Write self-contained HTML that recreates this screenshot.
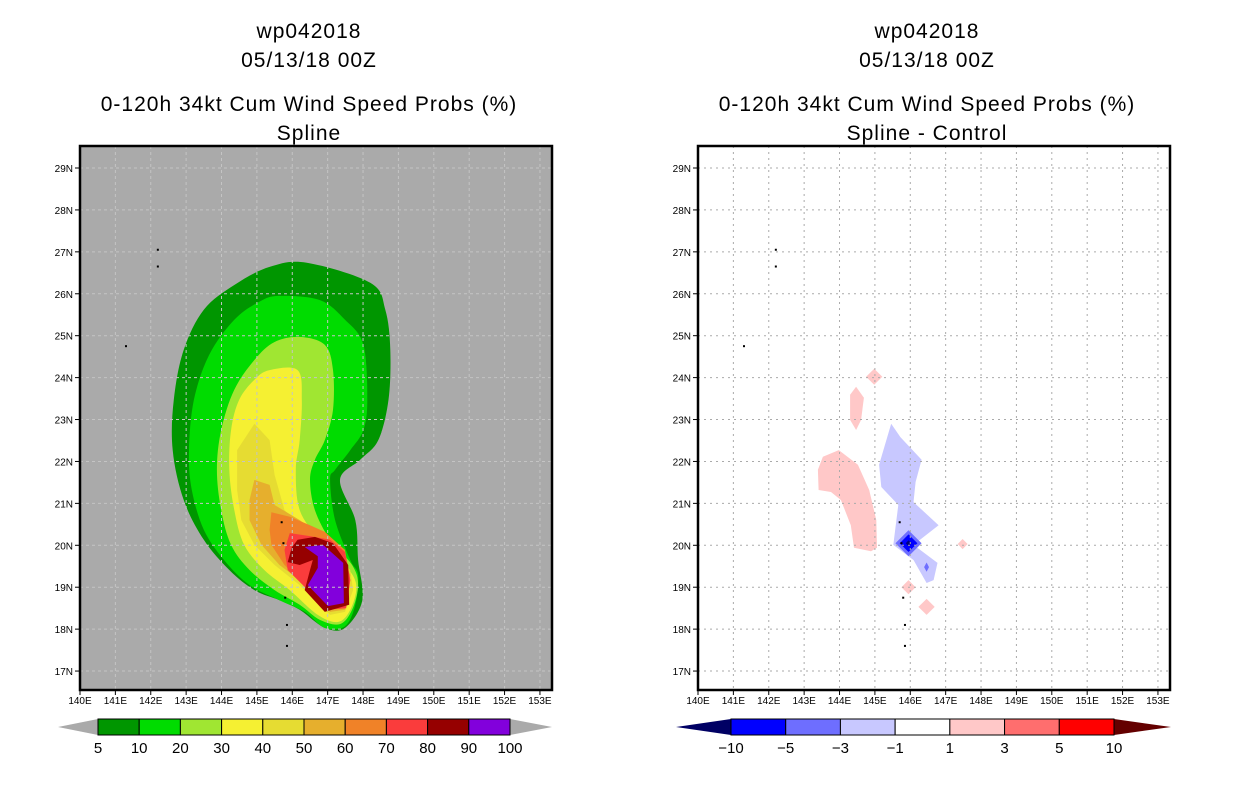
<!DOCTYPE html>
<html><head><meta charset="utf-8">
<style>
html,body{margin:0;padding:0;background:#fff;}
svg{display:block;font-family:"Liberation Sans",sans-serif;}
.t{font-size:21px;letter-spacing:1px;}
.tk{font-size:10px;}
.cb{font-size:15px;}
</style></head>
<body>
<svg id="fig" width="1236" height="800" viewBox="0 0 1236 800" xmlns="http://www.w3.org/2000/svg">
<g class="t" text-anchor="middle">
<text x="309" y="38">wp042018</text>
<text x="309" y="67">05/13/18 00Z</text>
<text x="309" y="111">0-120h 34kt Cum Wind Speed Probs (%)</text>
<text x="309" y="140">Spline</text>
</g>
<g class="t" text-anchor="middle">
<text x="927" y="38">wp042018</text>
<text x="927" y="67">05/13/18 00Z</text>
<text x="927" y="111">0-120h 34kt Cum Wind Speed Probs (%)</text>
<text x="927" y="140">Spline - Control</text>
</g>
<g id="left"></g>
<g id="right"></g>
<g id="cbl"></g>
<g id="cbr"></g>
</svg>
<script>
const lonTicks=[140,141,142,143,144,145,146,147,148,149,150,151,152,153];
const latTicks=[17,18,19,20,21,22,23,24,25,26,27,28,29];
const probLevels=[5,10,20,30,40,50,60,70,80,90,100];
const probColors=["#009600","#00dc00","#a0e632","#f5f032","#e6dc32","#e6af2d","#f08228","#fa3c3c","#960000","#8200dc"];
const diffLevels=["-10","-5","-3","-1","1","3","5","10"];
const diffColors=["#0000ff","#6e6eff","#c8c8ff","#ffffff","#ffc8c8","#ff6e6e","#ff0000"];
const p5=[[146.41,26.74],[148.21,26.26],[148.63,25.62],[148.77,24.66],[148.72,23.47],[148.43,22.51],[147.92,22.04],[147.35,21.56],[147.78,20.60],[147.86,19.65],[147.98,18.69],[147.49,18.03],[146.92,18.03],[146.21,18.46],[145.64,18.69],[144.93,18.93],[144.22,19.41],[143.50,20.13],[142.93,21.08],[142.62,22.27],[142.65,23.47],[142.93,24.66],[143.50,25.62],[144.36,26.21],[145.36,26.64]];
const p10=[[145.64,25.95],[146.78,25.85],[147.49,25.38],[148.01,24.78],[148.12,23.47],[148.01,22.75],[147.64,22.27],[147.21,21.80],[147.07,21.56],[147.21,20.60],[147.64,19.65],[147.86,19.29],[147.78,18.58],[147.49,18.07],[146.92,18.03],[146.35,18.41],[145.64,18.69],[144.79,19.05],[144.07,19.65],[143.50,20.37],[143.16,21.32],[143.08,22.27],[143.22,23.47],[143.65,24.54],[144.36,25.38],[145.07,25.81]];
const p20=[[146.21,24.97],[146.92,24.78],[147.15,24.18],[147.15,23.23],[146.92,22.51],[146.64,22.04],[146.50,21.56],[146.64,20.84],[147.07,20.13],[147.69,19.53],[147.86,19.05],[147.69,18.46],[147.35,18.12],[146.78,18.22],[146.21,18.58],[145.50,18.93],[144.79,19.41],[144.27,20.01],[143.99,20.84],[143.87,21.80],[143.99,22.75],[144.36,23.71],[144.93,24.42],[145.50,24.85]];
const p30=[[145.36,24.18],[146.15,24.18],[146.27,23.47],[146.21,22.51],[146.10,21.80],[146.21,20.84],[146.78,20.13],[147.49,19.53],[147.81,19.05],[147.64,18.46],[147.29,18.17],[146.72,18.34],[145.93,18.93],[145.21,19.41],[144.64,20.01],[144.36,20.84],[144.22,21.80],[144.27,22.75],[144.50,23.47],[144.93,23.95]];
const p40=[[144.93,22.90],[145.36,22.51],[145.50,21.68],[145.78,20.84],[146.35,20.37],[147.07,19.89],[147.64,19.41],[147.72,18.93],[147.49,18.41],[147.07,18.34],[146.21,19.05],[145.50,19.53],[144.93,20.01],[144.56,20.60],[144.44,21.32],[144.44,22.27]];
const p50=[[144.93,21.56],[145.36,21.44],[145.50,20.96],[146.21,20.60],[146.78,20.25],[147.35,19.89],[147.64,19.29],[147.49,18.46],[147.07,18.41],[146.21,19.17],[145.64,19.53],[145.13,20.01],[144.79,20.60],[144.79,21.08]];
const p60=[[145.41,20.79],[145.93,20.68],[146.50,20.48],[146.92,20.32],[147.49,19.89],[147.64,19.17],[147.49,18.50],[147.07,18.46],[146.35,19.05],[145.78,19.53],[145.41,20.01],[145.36,20.37]];
const p70=[[145.93,20.29],[146.50,20.22],[147.07,20.13],[147.49,19.84],[147.64,19.17],[147.52,18.50],[146.92,18.46],[146.30,19.05],[145.87,19.41],[145.78,19.89]];
const p80=[[146.15,20.13],[146.64,20.20],[147.15,20.05],[147.58,19.53],[147.61,18.58],[146.92,18.41],[146.35,18.93],[146.50,19.41],[146.58,19.65],[146.21,19.53],[145.87,19.60],[145.98,19.94]];
const p90=[[146.35,19.96],[146.87,20.01],[147.44,19.58],[147.46,18.62],[147.01,18.55],[146.44,19.05],[146.72,19.46],[146.72,19.74]];
const probPolys=[p5,p10,p20,p30,p40,p50,p60,p70,p80,p90];
const dPinkTall=[[144.47,23.78],[144.69,23.52],[144.61,22.99],[144.47,22.75],[144.30,22.99],[144.30,23.59]];
const dPinkBig=[[143.98,22.27],[144.52,21.92],[144.84,21.32],[145.04,20.60],[145.06,19.94],[144.89,19.86],[144.41,19.94],[144.32,20.48],[144.04,21.08],[143.76,21.27],[143.41,21.32],[143.39,21.80],[143.53,22.11]];
const dBlue=[[145.46,22.90],[145.72,22.58],[146.32,22.04],[146.15,21.51],[146.09,21.03],[146.80,20.48],[146.09,20.01],[146.77,19.58],[146.66,19.17],[146.46,19.10],[146.09,19.65],[145.52,20.01],[145.66,20.96],[145.18,21.39],[145.12,21.92]];
const dDiamonds=[[144.98,24.02,0.23,0.19,4],[145.95,19.00,0.2,0.17,4],[146.46,18.53,0.23,0.19,4],[147.48,20.03,0.14,0.12,4],[145.95,20.05,0.37,0.31,1],[145.95,20.05,0.25,0.21,0],[145.95,20.05,0.08,0.07,-1],[146.46,19.48,0.07,0.11,1]];
const islands=[[142.2,27.05],[142.2,26.65],[141.3,24.75],[145.7,20.55],[145.75,20.05],[145.8,18.75],[145.85,18.1],[145.85,17.6]];

const NS="http://www.w3.org/2000/svg";
function mk(tag,attrs,parent){const e=document.createElementNS(NS,tag);for(const k in attrs)e.setAttribute(k,attrs[k]);parent.appendChild(e);return e;}
const LAT0=29.525, PXLAT=41.92, PXLON=35.38, Y0=146, Y1=690;
function smoothPath(P){
  const n=P.length;let d='M'+P[0][0].toFixed(1)+','+P[0][1].toFixed(1);
  for(let i=0;i<n;i++){
    const p0=P[(i-1+n)%n],p1=P[i],p2=P[(i+1)%n],p3=P[(i+2)%n];
    const c1=[p1[0]+(p2[0]-p0[0])/6,p1[1]+(p2[1]-p0[1])/6];
    const c2=[p2[0]-(p3[0]-p1[0])/6,p2[1]-(p3[1]-p1[1])/6];
    d+=' C'+c1[0].toFixed(1)+','+c1[1].toFixed(1)+' '+c2[0].toFixed(1)+','+c2[1].toFixed(1)+' '+p2[0].toFixed(1)+','+p2[1].toFixed(1);
  }
  return d+'Z';
}
function makeMap(g,x0,bg,gridColor,gridDash,drawFn){
  const sx=lon=>x0+(lon-140)*PXLON, sy=lat=>Y0+(LAT0-lat)*PXLAT;
  const W=472;
  const clipId='clip'+x0;
  const cp=mk('clipPath',{id:clipId},g);mk('rect',{x:x0,y:Y0,width:W,height:Y1-Y0},cp);
  const bgR=mk('rect',{x:x0,y:Y0,width:W,height:Y1-Y0,fill:bg},g);
  
  
  const inner=mk('g',{'clip-path':'url(#'+clipId+')'},g);
  drawFn(inner,sx,sy);
  lonTicks.forEach(l=>{const gl=mk('line',{x1:sx(l),x2:sx(l),y1:Y0,y2:Y1,stroke:gridColor,'stroke-width':1,'stroke-dasharray':gridDash},inner);
    
    });
  latTicks.forEach(l=>{const gl=mk('line',{x1:x0,x2:x0+W,y1:sy(l),y2:sy(l),stroke:gridColor,'stroke-width':1,'stroke-dasharray':gridDash},inner);
    
    });
  islands.forEach(p=>{const d=mk('rect',{x:sx(p[0])-1,y:sy(p[1])-1,width:2,height:2,fill:'#000'},inner);
    
    });
  const fr=mk('rect',{x:x0,y:Y0,width:W,height:Y1-Y0,fill:'none',stroke:'#000','stroke-width':2.5},g);
  
  
  lonTicks.forEach(l=>{mk('line',{x1:sx(l),x2:sx(l),y1:Y1,y2:Y1+5,stroke:'#000'},g);
    const t=mk('text',{x:sx(l),y:Y1+14,'text-anchor':'middle',class:'tk'},g);t.textContent=l+'E';
    
    });
  latTicks.forEach(l=>{mk('line',{x1:x0-5,x2:x0,y1:sy(l),y2:sy(l),stroke:'#000'},g);
    const t=mk('text',{x:x0-7,y:sy(l)+4,'text-anchor':'end',class:'tk'},g);t.textContent=l+'N';
    
    });
}
const pts=(poly,sx,sy)=>poly.map(p=>sx(p[0]).toFixed(1)+','+sy(p[1]).toFixed(1)).join(' ');
makeMap(document.getElementById('left'),80,'#aaaaaa','#c4c4c4','3,3',(g,sx,sy)=>{
  probPolys.forEach((poly,i)=>{
    let e;
    if(i<4){e=mk('path',{d:smoothPath(poly.map(p=>[sx(p[0]),sy(p[1])])),fill:probColors[i]},g);}
    else{e=mk('polygon',{points:pts(poly,sx,sy),fill:probColors[i]},g);}
    
    });
});
makeMap(document.getElementById('right'),698,'#ffffff','#aaaaaa','2,4',(g,sx,sy)=>{
  [dPinkTall,dPinkBig].forEach(poly=>{const e=mk('polygon',{points:pts(poly,sx,sy),fill:diffColors[4]},g);
    
    });
  const b=mk('polygon',{points:pts(dBlue,sx,sy),fill:diffColors[2]},g);
  
  
  dDiamonds.forEach(d=>{const poly=[[d[0],d[1]+d[3]],[d[0]+d[2],d[1]],[d[0],d[1]-d[3]],[d[0]-d[2],d[1]]];
    const e=mk('polygon',{points:pts(poly,sx,sy),fill:d[4]<0?'#000080':diffColors[d[4]]},g);
    
    });
});
function colorbar(g,x0,x1,tipL,tipR,colors,labels,leftC,rightC){
  const y0=719,y1=735,n=colors.length,w=(x1-x0)/n;
  const tl=mk('polygon',{points:`${tipL},${(y0+y1)/2} ${x0},${y0} ${x0},${y1}`,fill:leftC},g);
  
  
  const tr=mk('polygon',{points:`${tipR},${(y0+y1)/2} ${x1},${y0} ${x1},${y1}`,fill:rightC},g);
  
  
  colors.forEach((c,i)=>{const r=mk('rect',{x:x0+i*w,y:y0,width:w,height:y1-y0,fill:c,stroke:'#000','stroke-width':1},g);
    
    });
  labels.forEach((l,i)=>{const t=mk('text',{x:x0+i*w,y:753,'text-anchor':'middle',class:'cb'},g);t.textContent=l.replace('-','\u2212');
    
    });
}
colorbar(document.getElementById('cbl'),98,510,58,552,probColors,probLevels.map(String),'#aaaaaa','#aaaaaa');
colorbar(document.getElementById('cbr'),731,1114,676,1171,diffColors,diffLevels,'#000064','#640000');
</script>
</body></html>
